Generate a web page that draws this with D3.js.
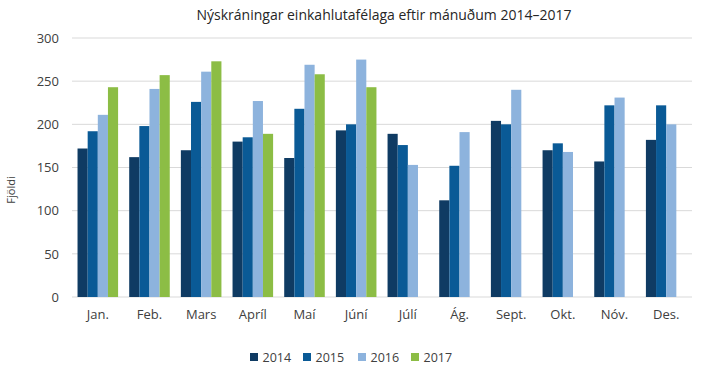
<!DOCTYPE html>
<html>
<head>
<meta charset="utf-8">
<script src="https://cdn.jsdelivr.net/npm/d3@7"></script>
<style>
  body { margin: 0; background: #fff; }
  text { font-family: "Open Sans", sans-serif; fill: #404040; }
</style>
</head>
<body>
<svg width="713" height="377"></svg>
<script>
var months = ["Jan.", "Feb.", "Mars", "Apríl", "Maí", "Júní", "Júlí", "Ág.", "Sept.", "Okt.", "Nóv.", "Des."];
var years = ["2014", "2015", "2016", "2017"];
var y2014 = [172, 162, 170, 180, 161, 193, 189, 112, 204, 170, 157, 182];
var y2015 = [192, 198, 226, 185, 218, 200, 176, 152, 200, 178, 222, 222];
var y2016 = [211, 241, 261, 227, 269, 275, 153, 191, 240, 168, 231, 200];
var y2017 = [243, 257, 273, 189, 258, 243, null, null, null, null, null, null];
var yTicks = [0, 50, 100, 150, 200, 250, 300];

var colors = ["#0f3b63", "#0a5a96", "#8db3dd", "#8cbd45"];
var series = [y2014, y2015, y2016, y2017];

var svg = d3.select("svg"),
  margin = { top: 38, right: 21, bottom: 80, left: 72 },
  width = +svg.attr("width") - margin.left - margin.right,
  height = +svg.attr("height") - margin.top - margin.bottom;

var x0 = d3.scaleBand().domain(months).range([0, width]).paddingInner(0.215).paddingOuter(0.107);
var x1 = d3.scaleBand().domain(years).range([0, x0.bandwidth()]);
var y = d3.scaleLinear().domain([0, 300]).range([height, 0]);
var z = d3.scaleOrdinal().domain(years).range(colors);

var g = svg.append("g").attr("transform", `translate(${margin.left},${margin.top})`);

// gridlines
g.append("g")
  .selectAll("line")
  .data(yTicks)
  .enter().append("line")
  .attr("x1", 0).attr("x2", width)
  .attr("y1", d => y(d)).attr("y2", d => y(d))
  .attr("stroke", "#d9d9d9").attr("stroke-width", 1);

var rows = months.map((m, i) => ({ month: m, vals: years.map((yr, k) => ({ year: yr, v: series[k][i] })) }));

g.selectAll(".grp")
  .data(rows)
  .enter().append("g")
  .attr("class", "grp")
  .attr("transform", d => `translate(${x0(d.month)},0)`)
  .selectAll("rect")
  .data(d => d.vals.filter(e => e.v != null))
  .enter().append("rect")
  .attr("x", d => x1(d.year))
  .attr("width", x1.bandwidth())
  .attr("y", d => y(d.v))
  .attr("height", d => height - y(d.v))
  .attr("fill", d => z(d.year));

// y axis labels
var yAxis = g.append("g").call(d3.axisLeft(y).tickValues(yTicks).tickSize(0).tickPadding(13));
yAxis.select(".domain").remove();
yAxis.selectAll("text").style("font-size", "13px").style("font-family", "Open Sans, sans-serif").attr("fill", "#404040");

// x axis
var xAxis = g.append("g").attr("transform", `translate(0,${height})`)
  .call(d3.axisBottom(x0).tickSize(0).tickPadding(13));
xAxis.select(".domain").remove();
xAxis.selectAll("text").style("font-size", "13px").style("font-family", "Open Sans, sans-serif").attr("fill", "#404040");

// title
svg.append("text")
  .attr("x", 384).attr("y", 20)
  .attr("text-anchor", "middle")
  .style("font-size", "14px")
  .style("fill", "#262626")
  .text("Nýskráningar einkahlutafélaga eftir mánuðum 2014\u20132017");

// y label
svg.append("text")
  .attr("transform", "translate(15,190) rotate(-90)")
  .attr("text-anchor", "middle")
  .style("font-size", "11px")
  .text("Fjöldi");

// legend
var legendX = [250, 303, 358, 411];
var legend = svg.append("g").selectAll("g")
  .data(years)
  .enter().append("g")
  .attr("transform", (d, i) => `translate(${legendX[i]},353)`);
legend.append("rect").attr("width", 8).attr("height", 8).attr("fill", d => z(d));
legend.append("text").attr("x", 12.5).attr("y", 8.5).style("font-size", "12.5px").text(d => d);
</script>
</body>
</html>
